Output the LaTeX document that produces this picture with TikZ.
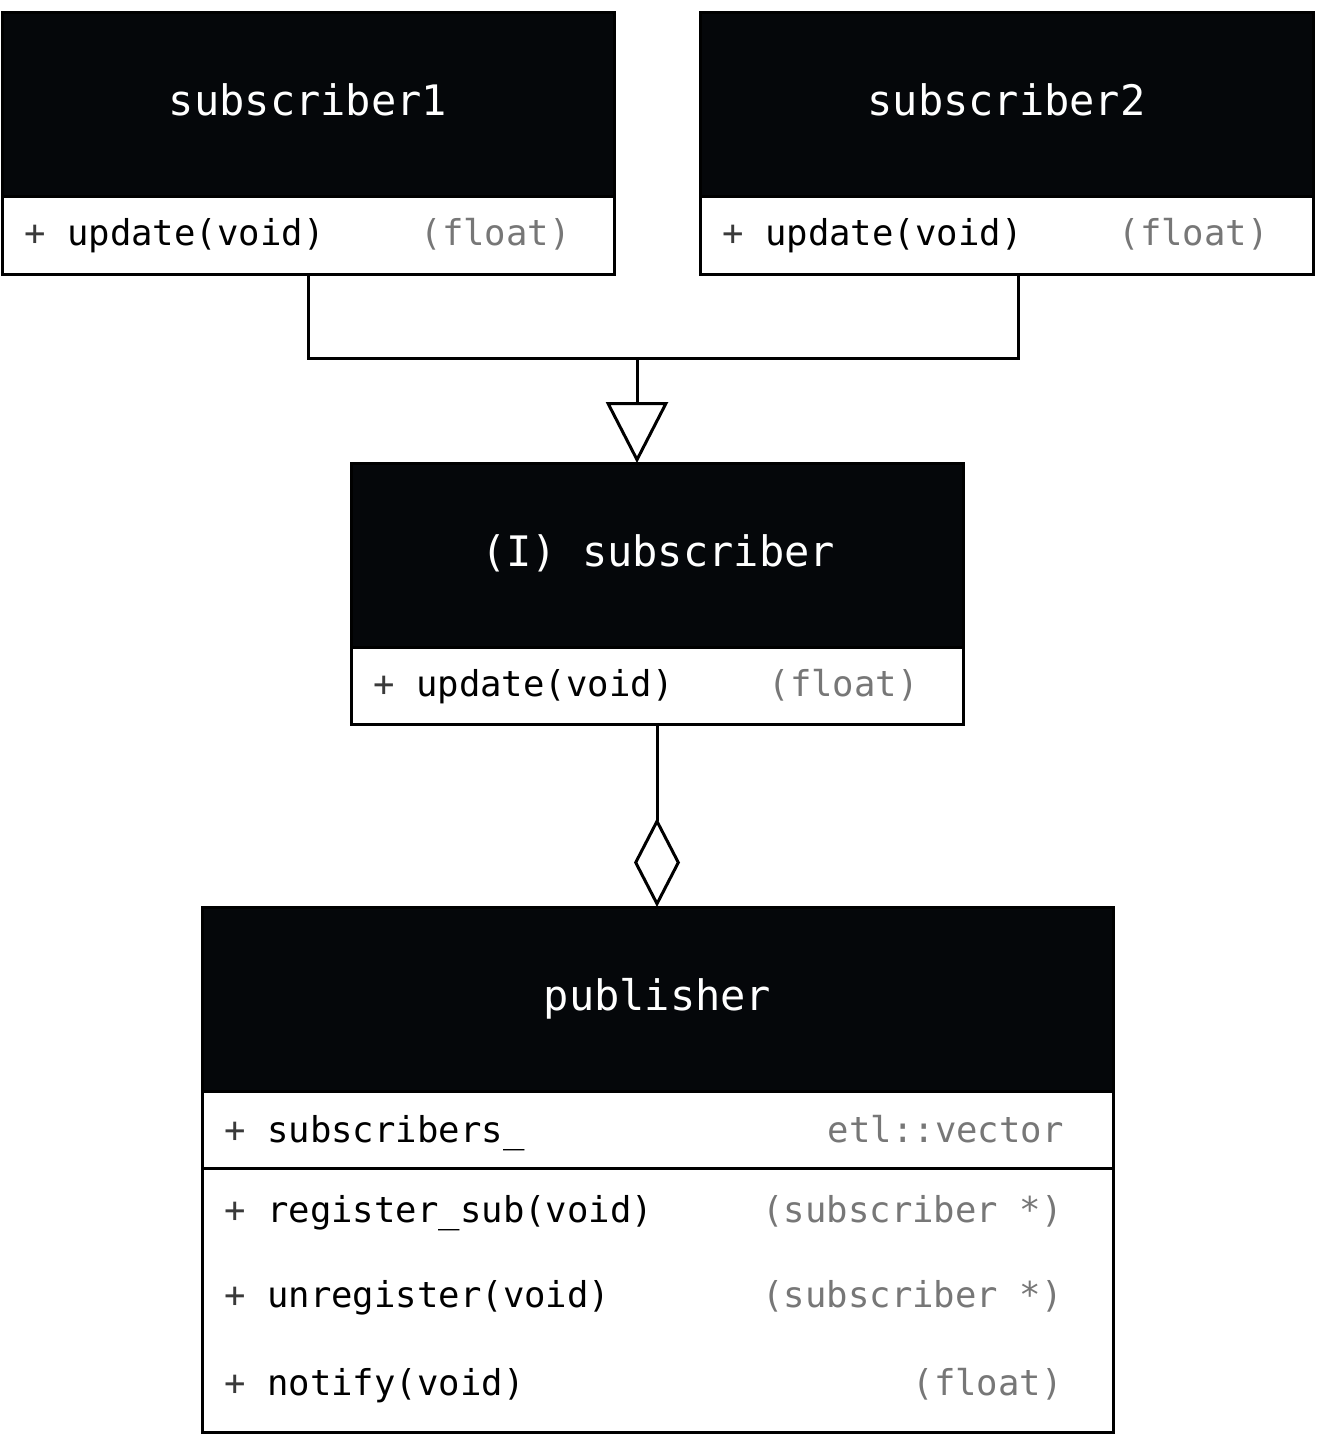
\documentclass[tikz,border=0pt]{standalone}
\usepackage{fontspec}
\setmonofont{DejaVu Sans Mono}
\usetikzlibrary{arrows.meta}
\definecolor{hdr}{HTML}{05070A}
\definecolor{typc}{HTML}{777777}
\definecolor{plusc}{HTML}{3A3A3A}
\newcommand\vis{\textcolor{plusc}{+}}
\tikzset{
  box/.style={draw=black, line width=1.5pt, anchor=north west, inner sep=0pt, outer sep=0pt},
  head/.style={box, fill=hdr},
  rowbox/.style={box, fill=white},
  ttl/.style={text=white, font=\ttfamily\fontsize{21}{24}\selectfont, anchor=base, inner sep=0pt},
  mem/.style={text=black, font=\ttfamily\fontsize{17.8}{20}\selectfont, anchor=base west, inner sep=0pt},
  typ/.style={text=typc, font=\ttfamily\fontsize{17.8}{20}\selectfont, anchor=base east, inner sep=0pt},
  conn/.style={draw=black, line width=1.5pt}
}
\begin{document}
\begin{tikzpicture}[x=0.5pt,y=-0.5pt]
\useasboundingbox (0,0) rectangle (1324,1435);
% subscriber1
\node[head, minimum width={612*0.5pt}, minimum height={184*0.5pt}] (s1head) at (2,12) {};
\node[rowbox, minimum width={612*0.5pt}, minimum height={78*0.5pt}] (s1row) at (2,196) {};
\node[ttl] (s1t) at (308,115.5) {subscriber1};
\node[mem] (s1m) at (24,245) {\vis{} update(void)};
\node[typ] (s1y) at (571,245) {(float)};
% subscriber2
\node[head, minimum width={613*0.5pt}, minimum height={184*0.5pt}] (s2head) at (700,12) {};
\node[rowbox, minimum width={613*0.5pt}, minimum height={78*0.5pt}] (s2row) at (700,196) {};
\node[ttl] (s2t) at (1006.5,115.5) {subscriber2};
\node[mem] (s2m) at (722,245) {\vis{} update(void)};
\node[typ] (s2y) at (1269,245) {(float)};
% interface
\node[head, minimum width={612*0.5pt}, minimum height={184*0.5pt}] (ifhead) at (351,463) {};
\node[rowbox, minimum width={612*0.5pt}, minimum height={77*0.5pt}] (ifrow) at (351,647) {};
\node[ttl] (ift) at (658,566.5) {(I) subscriber};
\node[mem] (ifm) at (373,696) {\vis{} update(void)};
\node[typ] (ify) at (919,696) {(float)};
% publisher
\node[head, minimum width={911*0.5pt}, minimum height={184*0.5pt}] (phead) at (202,907) {};
\node[rowbox, minimum width={911*0.5pt}, minimum height={77*0.5pt}] (prow1) at (202,1091) {};
\node[rowbox, minimum width={911*0.5pt}, minimum height={264*0.5pt}] (prow2) at (202,1168) {};
\node[ttl] (pt) at (657.5,1010.5) {publisher};
\node[mem] (pm1) at (224,1142) {\vis{} subscribers\_};
\node[typ] (py1) at (1064,1142) {etl::vector};
\node[mem] (pm2) at (224,1222) {\vis{} register\_sub(void)};
\node[typ] (py2) at (1063,1222) {(subscriber *)};
\node[mem] (pm3) at (224,1307) {\vis{} unregister(void)};
\node[typ] (py3) at (1063,1307) {(subscriber *)};
\node[mem] (pm4) at (224,1395) {\vis{} notify(void)};
\node[typ] (py4) at (1063,1395) {(float)};
% connectors
\coordinate (s2b) at (1018,274);
\coordinate (j) at (637,358);
\draw[conn] (s1row.south) |- (j) -| (s2b);
\draw[conn, -{Triangle[open, length=30.5pt, width=31pt]}] (j) -- (j |- ifhead.north);
\draw[conn, -{Diamond[open, length=44.5pt, width=23pt]}] (ifrow.south) -- (ifrow.south |- phead.north);
\end{tikzpicture}
\end{document}
